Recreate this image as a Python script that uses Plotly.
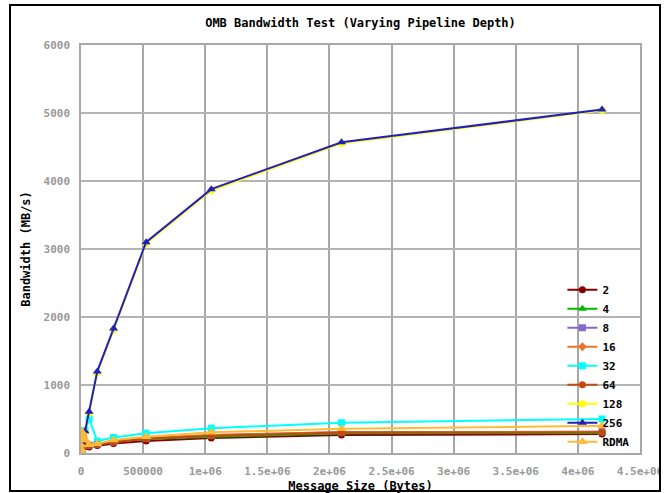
import plotly.graph_objects as go

# ---- data ----
msg_sizes = [1, 2, 4, 8, 16, 32, 64, 128, 256, 512, 1024, 2048, 4096, 8192,
             16384, 32768, 65536, 131072, 262144, 524288, 1048576, 2097152, 4194304]

series_names = ["2", "4", "8", "16", "32", "64", "128", "256", "RDMA"]

bw_2 = [0.2, 0.4, 0.8, 1.6, 3.2, 6.4, 12.5, 24, 45, 75, 105, 120, 130, 120, 110, 95, 90, 110, 140, 178, 222, 265, 278]
bw_4 = [0.2, 0.4, 0.8, 1.6, 3.2, 6.4, 12.5, 24, 46, 78, 110, 125, 135, 130, 120, 110, 105, 125, 160, 205, 238, 290, 295]
bw_8 = [0.2, 0.4, 0.8, 1.6, 3.3, 6.6, 13, 25, 48, 82, 115, 135, 145, 140, 130, 120, 115, 130, 165, 215, 262, 308, 312]
bw_16 = [0.2, 0.4, 0.8, 1.7, 3.4, 6.8, 13.5, 26, 50, 85, 120, 140, 150, 145, 135, 125, 118, 135, 170, 220, 265, 305, 312]
bw_32 = [0.4, 0.8, 1.6, 3.2, 6.3, 12.5, 24, 46, 85, 140, 200, 240, 260, 270, 250, 330, 500, 175, 228, 292, 365, 445, 500]
bw_64 = [0.2, 0.4, 0.8, 1.6, 3.3, 6.6, 13, 25, 48, 80, 112, 130, 140, 135, 128, 118, 112, 128, 162, 210, 255, 300, 305]
bw_128 = [0.4, 0.8, 1.6, 3.2, 6.4, 12.8, 25, 49, 92, 155, 225, 275, 295, 285, 255, 310, 585, 1180, 1810, 3080, 3860, 4555, 5040]
bw_256 = [0.4, 0.8, 1.6, 3.2, 6.5, 13, 26, 50, 95, 160, 230, 280, 300, 290, 260, 320, 605, 1200, 1830, 3100, 3880, 4570, 5050]
bw_rdma = [0.5, 1, 2, 4, 8, 16, 32, 62, 115, 190, 260, 300, 320, 300, 250, 200, 120, 135, 190, 240, 305, 355, 400]

x_tick_vals = [0, 500000, 1000000, 1500000, 2000000, 2500000, 3000000, 3500000, 4000000, 4500000]
x_tick_text = ["0", "500000", "1e+06", "1.5e+06", "2e+06", "2.5e+06", "3e+06", "3.5e+06", "4e+06", "4.5e+06"]
y_tick_vals = [0, 1000, 2000, 3000, 4000, 5000, 6000]

# ---- styles ----
all_series = [bw_2, bw_4, bw_8, bw_16, bw_32, bw_64, bw_128, bw_256, bw_rdma]
colors = ["#880000", "#00BB00", "#8866CC", "#E8782A", "#00FFFF", "#C04A10", "#FFFF00", "#2020C0", "#FFBB33"]
symbols = ["circle", "triangle-up", "square", "diamond", "square", "circle", "circle", "triangle-up", "triangle-up"]
msizes = [7, 8, 7, 7, 7, 7, 7, 8, 9]

MONO = "DejaVu Sans Mono"

fig = go.Figure()
for name, ys, c, s, ms in zip(series_names, all_series, colors, symbols, msizes):
    fig.add_trace(go.Scatter(
        x=msg_sizes, y=ys, name=name, mode="lines+markers",
        line=dict(color=c, width=2),
        marker=dict(color=c, symbol=s, size=ms),
    ))

fig.update_layout(
    width=668, height=493,
    margin=dict(l=81, r=28, t=45, b=40, autoexpand=False),
    paper_bgcolor="white", plot_bgcolor="white",
    title=dict(text="OMB Bandwidth Test (Varying Pipeline Depth)",
               x=0.5, xref="paper", xanchor="center",
               y=1 - 23 / 493, yanchor="middle",
               font=dict(family=MONO, size=12, color="black", weight="bold")),
    showlegend=True,
    legend=dict(x=0.99, xanchor="right", y=-0.008, yanchor="bottom",
                bgcolor="rgba(255,255,255,0)", borderwidth=0,
                font=dict(family=MONO, size=11, color="black", weight="bold"),
                itemwidth=30, traceorder="normal"),
)

fig.update_xaxes(
    range=[0, 4500000], tickvals=x_tick_vals, ticktext=x_tick_text,
    showgrid=True, gridcolor="#a8a8a8", gridwidth=1.5,
    showline=True, linecolor="#a8a8a8", linewidth=1.5, mirror=True,
    zeroline=False, ticks="", ticklabelstandoff=7, automargin=False,
    tickfont=dict(family=MONO, size=11, color="#999999", weight="bold"),
    title=dict(text="Message Size (Bytes)", standoff=6,
               font=dict(family=MONO, size=12, color="black", weight="bold")),
)
fig.update_yaxes(
    range=[0, 6000], tickvals=y_tick_vals,
    showgrid=True, gridcolor="#b4b4b4", gridwidth=1.5,
    showline=True, linecolor="#a8a8a8", linewidth=1.5, mirror=True,
    zeroline=False, ticks="", ticklabelstandoff=7, automargin=False,
    tickfont=dict(family=MONO, size=11, color="#999999", weight="bold"),
    title=dict(text="Bandwidth (MB/s)", standoff=10,
               font=dict(family=MONO, size=12, color="black", weight="bold")),
)

# outer frame (decoration) and clip of overflow at the right edge
plot_w, plot_h = 559.0, 408.0
def px_x(p):
    return (p - 81) / plot_w
def px_y(p):
    return (453 - p) / plot_h

fig.add_shape(type="rect", xref="paper", yref="paper", layer="above",
              x0=px_x(661), x1=px_x(675), y0=px_y(500), y1=px_y(0),
              fillcolor="white", line=dict(width=0))
fig.add_shape(type="rect", xref="paper", yref="paper", layer="above",
              x0=px_x(10), x1=px_x(660), y0=px_y(491), y1=px_y(5),
              fillcolor="rgba(0,0,0,0)", line=dict(color="black", width=2))

fig.write_html("out.html", config={"displayModeBar": False},
               post_script="document.body.style.margin='0';")
